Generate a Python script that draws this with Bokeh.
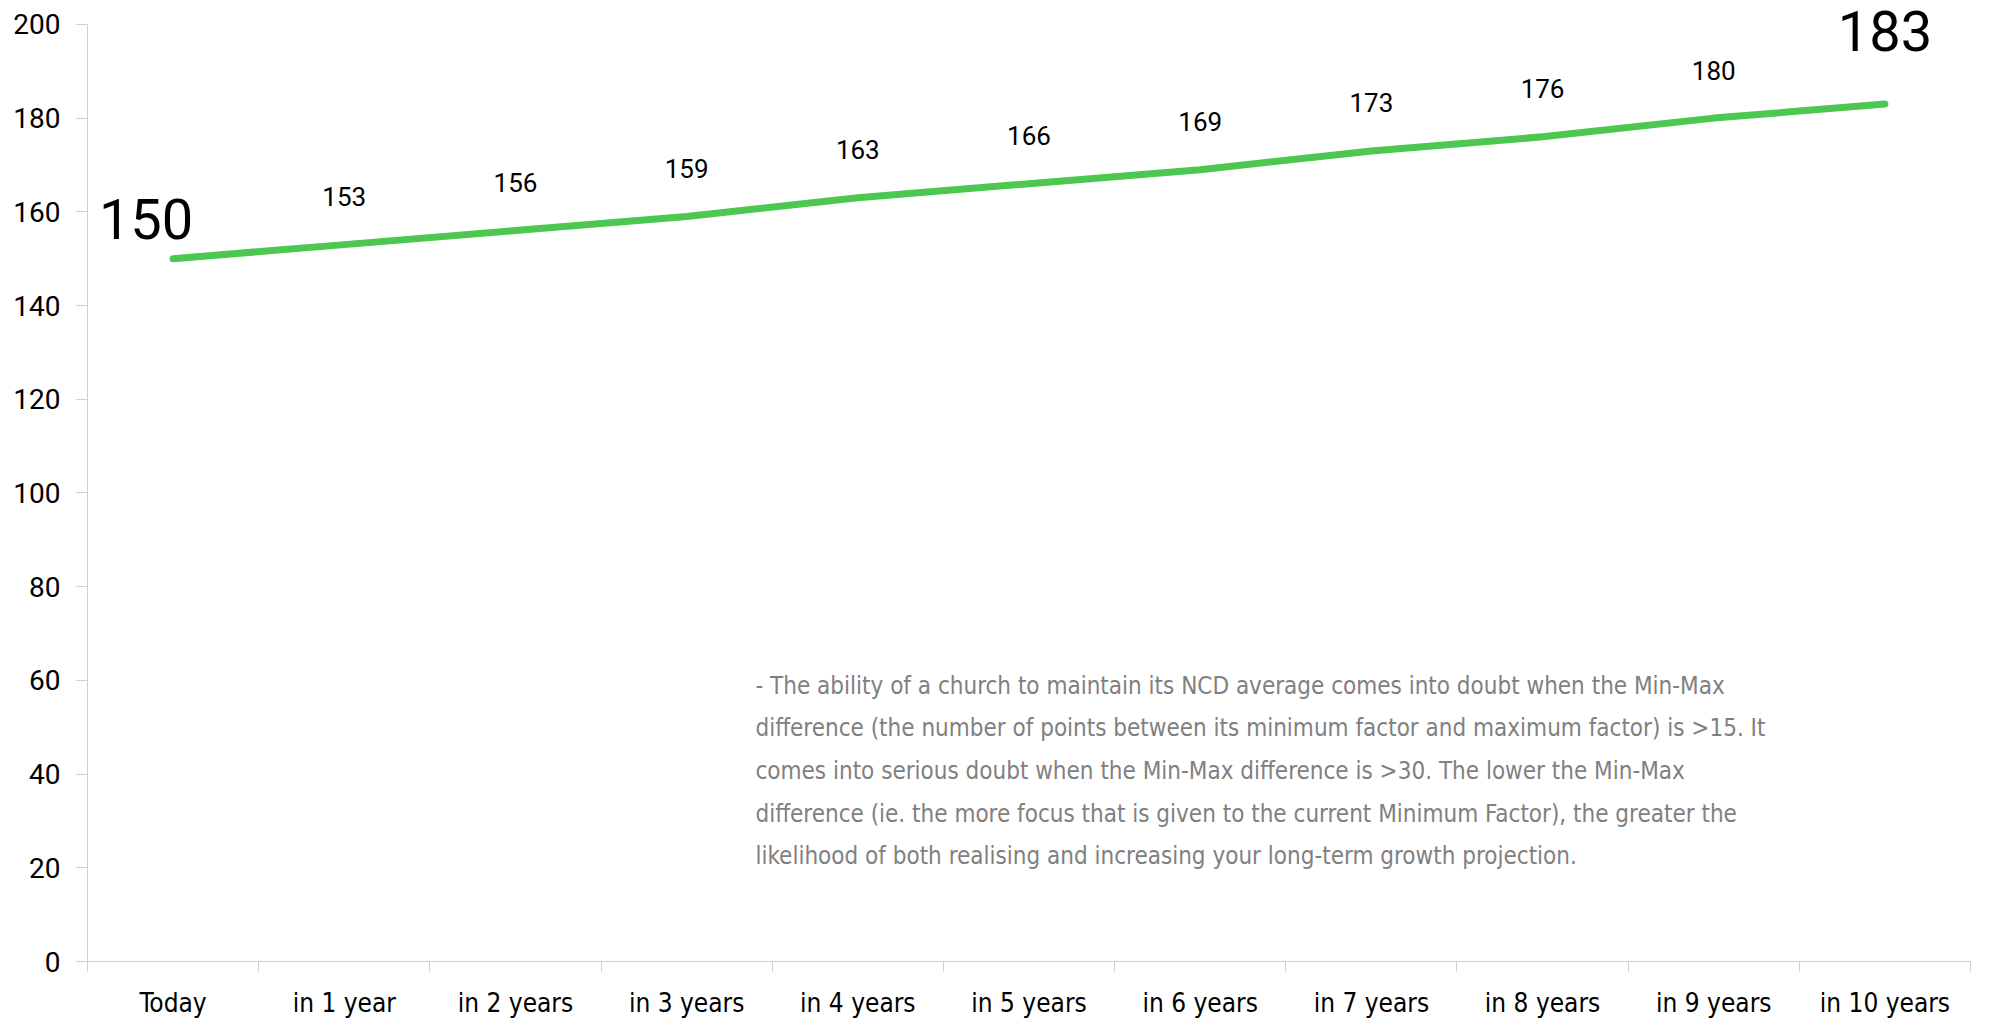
from bokeh.plotting import figure
from bokeh.models import Range1d, FixedTicker
from bokeh.core.properties import value
from bokeh.embed import file_html
from bokeh.resources import INLINE

categories = ["Today", "in 1 year", "in 2 years", "in 3 years", "in 4 years", "in 5 years",
              "in 6 years", "in 7 years", "in 8 years", "in 9 years", "in 10 years"]
values = [150, 153, 156, 159, 163, 166, 169, 173, 176, 180, 183]
y_ticks = [0, 20, 40, 60, 80, 100, 120, 140, 160, 180, 200]
note_lines = [
    "- The ability of a church to maintain its NCD average comes into doubt when the Min-Max",
    "difference (the number of points between its minimum factor and maximum factor) is >15. It",
    "comes into serious doubt when the Min-Max difference is >30. The lower the Min-Max",
    "difference (ie. the more focus that is given to the current Minimum Factor), the greater the",
    "likelihood of both realising and increasing your long-term growth projection.",
]

n = len(categories)
xs = [i + 0.5 for i in range(n)]

p = figure(width=1972, height=1020, output_backend="svg", toolbar_location=None,
           x_range=Range1d(0, n), y_range=Range1d(0, 205.1),
           min_border_left=87, min_border_right=2, min_border_top=0, min_border_bottom=58)
p.outline_line_color = None
p.xgrid.visible = False
p.ygrid.visible = False
p.background_fill_color = "white"
p.border_fill_color = "white"

axis_col = "#cfcfcf"
label_font = "DejaVu Sans Condensed"

# y axis
ya = p.yaxis[0]
ya.ticker = FixedTicker(ticks=y_ticks, minor_ticks=[])
ya.bounds = (0, 200)
ya.axis_line_color = axis_col
ya.major_tick_line_color = axis_col
ya.major_tick_out = 11
ya.major_tick_in = 0
ya.minor_tick_line_color = None
ya.major_label_text_font = "Roboto"
ya.major_label_text_font_size = "28px"
ya.major_label_text_color = "#000000"
ya.major_label_standoff = 16

# x axis: labels at category centers, ticks at boundaries
xa = p.xaxis[0]
xa.ticker = FixedTicker(ticks=xs, minor_ticks=list(range(n + 1)))
xa.major_label_overrides = {x: c for x, c in zip(xs, categories)}
xa.axis_line_color = axis_col
xa.major_tick_line_color = None
xa.major_tick_out = 0
xa.major_tick_in = 0
xa.minor_tick_line_color = axis_col
xa.minor_tick_out = 10
xa.minor_tick_in = 0
xa.major_label_text_font = label_font
xa.major_label_text_font_size = "26px"
xa.major_label_text_color = "#000000"
xa.major_label_standoff = 16

p.line(xs, values, line_color="#4CC750", line_width=7, line_cap="round", line_join="round")

# small data labels
p.text(xs[1:-1], values[1:-1], text=[str(v) for v in values[1:-1]],
       text_font=value("Roboto"), text_font_size="26px", text_color="#000000",
       text_align="center", text_baseline="alphabetic", y_offset=-48)
# big first/last labels
p.text([xs[0]], [values[0]], text=[str(values[0])],
       text_font=value("Roboto"), text_font_size="56px", text_color="#000000",
       text_align="center", text_baseline="alphabetic", x_offset=-27, y_offset=-40)
p.text([xs[-1]], [values[-1]], text=[str(values[-1])],
       text_font=value("Roboto"), text_font_size="56px", text_color="#000000",
       text_align="center", text_baseline="alphabetic", y_offset=-73)

# note text
note_x = [3.902] * len(note_lines)
note_y = [58.85 - 9.10 * i for i in range(len(note_lines))]
p.text(note_x, note_y, text=note_lines, text_font=value(label_font),
       text_font_size="24px", text_color="#808080", text_align="left", text_baseline="middle")

open("out.html", "w").write(file_html(p, INLINE))
